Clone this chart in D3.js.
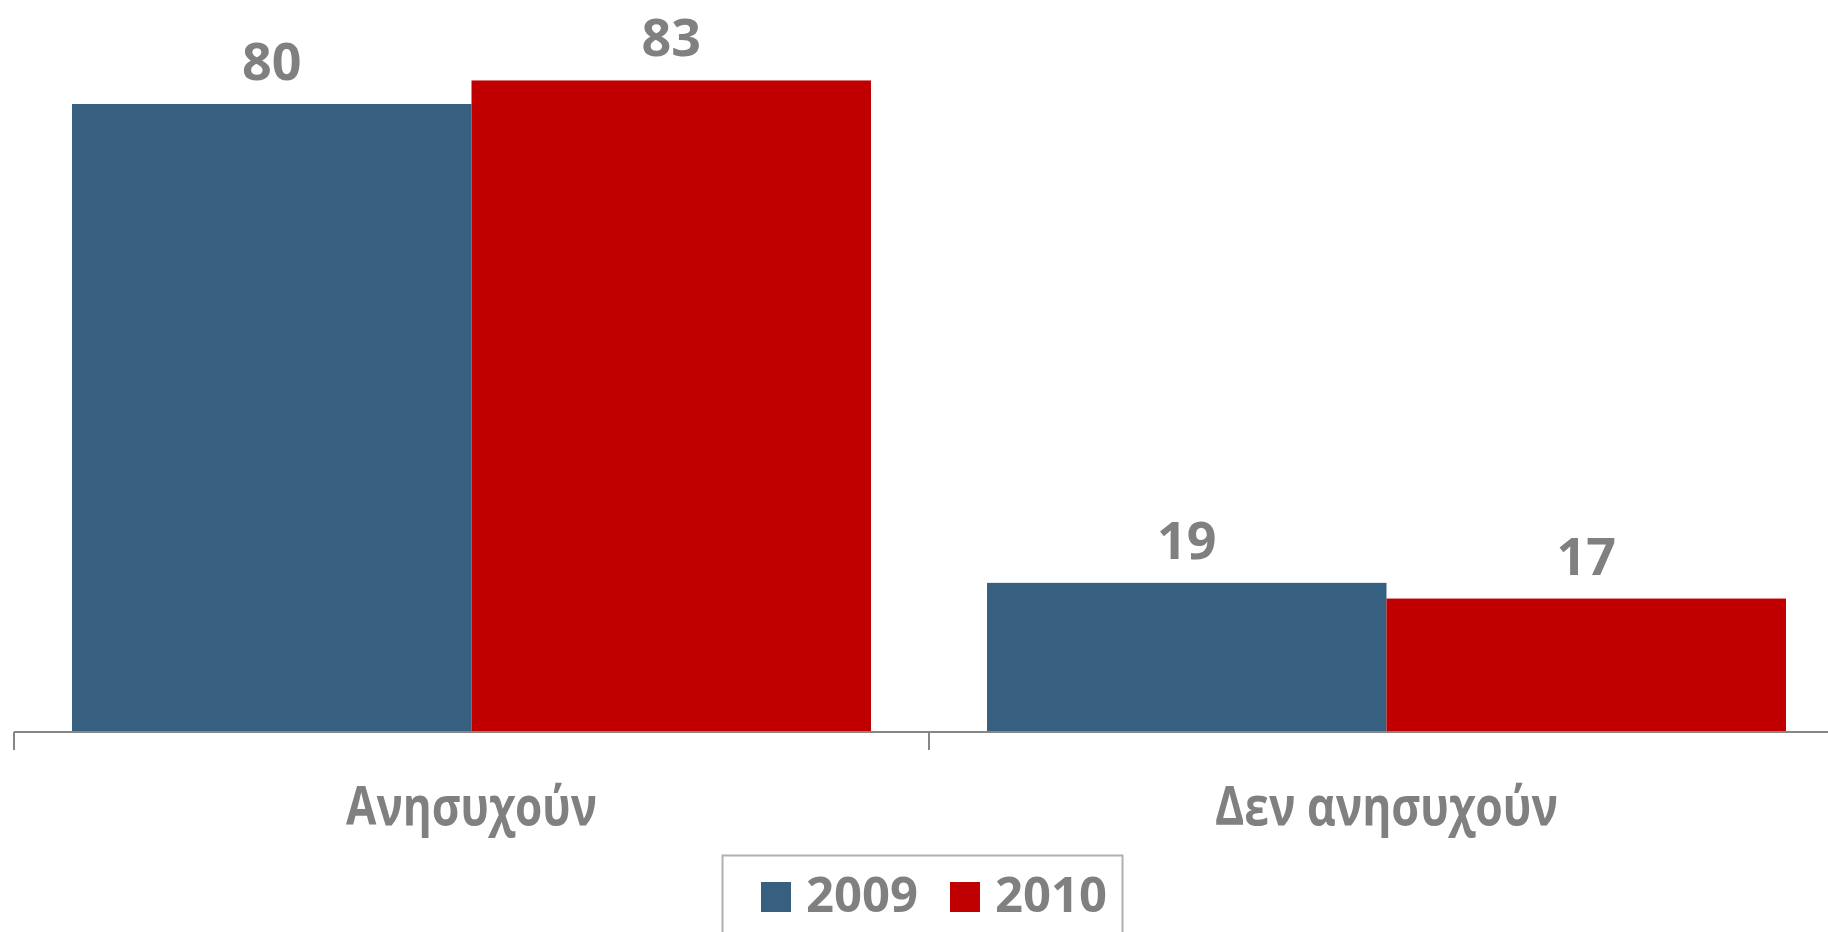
<!DOCTYPE html>
<html>
<head>
<meta charset="utf-8">
<script src="https://cdn.jsdelivr.net/npm/d3@7"></script>
<style>
  html, body { margin: 0; padding: 0; background: #ffffff; overflow: hidden; }
  svg { display: block; }
  text { font-family: "Open Sans", "Noto Sans", sans-serif; font-weight: 700; fill: #808080; }
</style>
</head>
<body>
<svg id="chart" width="1828" height="932"></svg>
<script>
const categories = ["Ανησυχούν", "Δεν ανησυχούν"];
const seriesNames = ["2009", "2010"];
const values2009 = [80, 19];
const values2010 = [83, 17];
const seriesColors = ["#375F7F", "#C00000"];

const series = [
  { name: seriesNames[0], values: values2009, color: seriesColors[0] },
  { name: seriesNames[1], values: values2010, color: seriesColors[1] }
];

const W = 1828, H = 932;
const svg = d3.select("#chart");

const x0 = d3.scaleBand()
  .domain(categories)
  .range([14, 1844])
  .paddingInner(0.1268)
  .paddingOuter(0.0634);

const x1 = d3.scaleBand()
  .domain(seriesNames)
  .range([0, x0.bandwidth()])
  .padding(0);

const y = d3.scaleLinear().domain([0, 90]).range([732, 25.5]);

const groups = svg.append("g").selectAll("g")
  .data(categories)
  .join("g")
  .attr("transform", d => `translate(${x0(d)},0)`);

series.forEach(s => {
  groups.append("rect")
    .attr("x", x1(s.name))
    .attr("y", (d, i) => y(s.values[i]))
    .attr("width", x1.bandwidth())
    .attr("height", (d, i) => y(0) - y(s.values[i]))
    .attr("fill", s.color);

  groups.append("text")
    .attr("x", x1(s.name) + x1.bandwidth() / 2)
    .attr("y", (d, i) => y(s.values[i]) - 24)
    .attr("text-anchor", "middle")
    .attr("font-size", 52)
    .text((d, i) => s.values[i]);
});

// axis: horizontal line with ticks at category boundaries
const axisG = svg.append("g");
axisG.append("line")
  .attr("x1", x0.range()[0]).attr("x2", W)
  .attr("y1", y(0)).attr("y2", y(0))
  .attr("stroke", "#868686").attr("stroke-width", 2);
const boundaries = categories.map(c => x0(c) - x0.step() * x0.paddingOuter());
boundaries.forEach(b => {
  axisG.append("line")
    .attr("x1", b).attr("x2", b)
    .attr("y1", y(0)).attr("y2", y(0) + 18)
    .attr("stroke", "#868686").attr("stroke-width", 2);
});

const labelWidths = [251, 343];
svg.append("g").selectAll("text")
  .data(categories)
  .join("text")
  .attr("x", d => x0(d) + x0.bandwidth() / 2)
  .attr("y", 825)
  .attr("text-anchor", "middle")
  .attr("font-size", 54)
  .attr("textLength", (d, i) => labelWidths[i])
  .attr("lengthAdjust", "spacingAndGlyphs")
  .text(d => d);

// legend
const legend = svg.append("g");
legend.append("rect")
  .attr("x", 722.5).attr("y", 855.5)
  .attr("width", 400).attr("height", 100)
  .attr("fill", "none").attr("stroke", "#b0b0b0").attr("stroke-width", 2);

const legendX = [761, 950];
series.forEach((s, i) => {
  legend.append("rect")
    .attr("x", legendX[i]).attr("y", 882)
    .attr("width", 30).attr("height", 30)
    .attr("fill", s.color);
  legend.append("text")
    .attr("x", legendX[i] + 45).attr("y", 912)
    .attr("font-size", 49)
    .text(s.name);
});
</script>
</body>
</html>
